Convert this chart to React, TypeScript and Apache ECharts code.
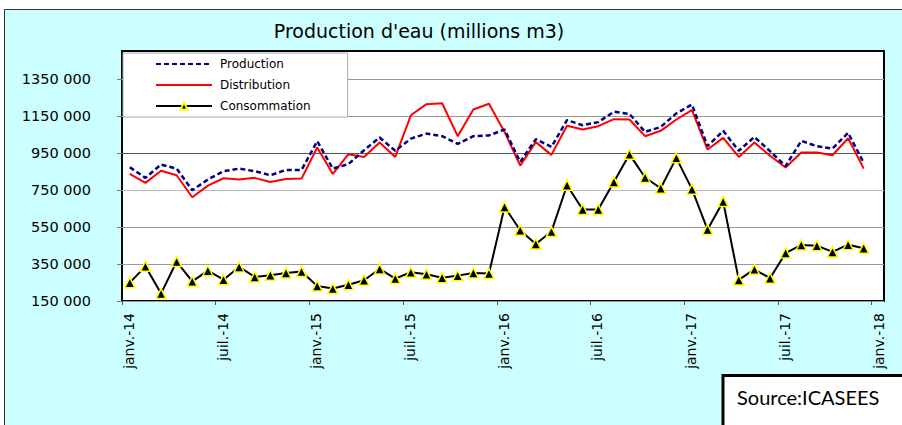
import React, { useEffect, useRef } from 'react';
import * as echarts from 'echarts';

// Monthly categories: janv.-14 ... déc.-17
const monthNames = ['janv.', 'févr.', 'mars', 'avr.', 'mai', 'juin', 'juil.', 'août', 'sept.', 'oct.', 'nov.', 'déc.'];
const years = ['14', '15', '16', '17'];
const months: string[] = years.flatMap((y) => monthNames.map((m) => `${m}-${y}`));

const production = [
  872000, 815000, 887000, 865000, 748000, 806000, 851000, 865000, 851000, 829000, 858000, 858000,
  1013000, 865000, 889000, 964000, 1033000, 961000, 1027000, 1054000, 1040000, 999000, 1040000, 1044000,
  1076000, 901000, 1024000, 982000, 1127000, 1099000, 1116000, 1172000, 1160000, 1063000, 1090000, 1163000,
  1211000, 986000, 1069000, 961000, 1036000, 959000, 878000, 1015000, 986000, 973000, 1058000, 896000,
];

const distribution = [
  836000, 788000, 853000, 829000, 710000, 773000, 813000, 806000, 815000, 793000, 809000, 811000,
  979000, 836000, 943000, 928000, 1006000, 928000, 1153000, 1213000, 1218000, 1040000, 1184000, 1215000,
  1063000, 881000, 1008000, 939000, 1096000, 1076000, 1094000, 1132000, 1130000, 1040000, 1069000, 1130000,
  1181000, 968000, 1031000, 928000, 1006000, 934000, 871000, 952000, 952000, 937000, 1029000, 865000,
];

const consommation = [
  249000, 337000, 190000, 363000, 256000, 314000, 265000, 334000, 280000, 289000, 301000, 309000,
  231000, 217000, 238000, 262000, 323000, 271000, 305000, 294000, 276000, 287000, 301000, 298000,
  658000, 532000, 458000, 525000, 775000, 644000, 644000, 793000, 942000, 817000, 759000, 923000,
  754000, 536000, 687000, 264000, 321000, 273000, 409000, 453000, 449000, 415000, 454000, 435000,
];

const xTickLabels = ['janv.-14', 'juil.-14', 'janv.-15', 'juil.-15', 'janv.-16', 'juil.-16', 'janv.-17', 'juil.-17', 'janv.-18'];
const yTickValues = [150000, 350000, 550000, 750000, 950000, 1150000, 1350000];
const yTickLabels = ['150 000', '350 000', '550 000', '750 000', '950 000', '1150 000', '1350 000'];

const seriesNames = ['Production', 'Distribution', 'Consommation'];
const title = "Production d'eau (millions m3)";
const sourceText = 'Source:ICASEES';

const FONT = 'DejaVu Sans';

export default function App() {
  const ref = useRef<HTMLDivElement>(null);

  useEffect(() => {
    if (!ref.current) return;
    const chart = echarts.init(ref.current, null, { renderer: 'svg' });
    const toPoints = (arr: number[]) => arr.map((v, i) => [i + 0.5, v]);
    const xTickValues = xTickLabels.map((_, i) => i * 6);
    const hiddenSymbol = { opacity: 0, borderWidth: 0 };

    chart.setOption({
      animation: false,
      backgroundColor: '#ffffff',
      title: {
        text: title,
        left: 419,
        top: 21,
        padding: 0,
        textAlign: 'center',
        textStyle: { fontFamily: FONT, fontSize: 19, fontWeight: 'normal', color: '#000' },
      },
      legend: {
        orient: 'vertical',
        left: 123,
        top: 53,
        itemWidth: 56,
        itemHeight: 9,
        itemGap: 9,
        padding: [5, 37, 5, 32],
        backgroundColor: '#fff',
        borderColor: '#aaa',
        borderWidth: 1,
        textStyle: { fontFamily: FONT, fontSize: 12, color: '#000', padding: [0, 0, 0, 3] },
        data: [
          { name: seriesNames[0], itemStyle: hiddenSymbol },
          { name: seriesNames[1], itemStyle: hiddenSymbol },
          { name: seriesNames[2] },
        ],
      },
      grid: {
        left: 122,
        right: 18,
        top: 51,
        bottom: 124,
        show: true,
        backgroundColor: '#fff',
        borderColor: '#000',
        borderWidth: 2,
        containLabel: false,
      },
      xAxis: {
        type: 'value',
        min: 0,
        max: 48.8,
        interval: 6,
        axisLine: { show: false },
        axisTick: { show: true, length: 4, lineStyle: { color: '#555' }, customValues: xTickValues },
        axisLabel: {
          customValues: xTickValues,
          formatter: (v: number) => xTickLabels[Math.round(v / 6)] ?? '',
          rotate: 90,
          margin: 12,
          verticalAlign: 'top',
          fontFamily: FONT,
          fontSize: 14,
          color: '#000',
        },
        splitLine: { show: false },
      },
      yAxis: {
        type: 'value',
        min: 150000,
        max: 1500000,
        interval: 200000,
        axisLine: { show: false },
        axisTick: { show: true, length: 5, lineStyle: { color: '#777' }, customValues: yTickValues },
        axisLabel: {
          customValues: yTickValues,
          formatter: (v: number) => {
            const idx = yTickValues.indexOf(v);
            return idx >= 0 ? yTickLabels[idx] : '';
          },
          margin: 31,
          fontFamily: FONT,
          fontSize: 14.5,
          color: '#000',
        },
        splitLine: {
          show: true,
          lineStyle: { color: ['#999', '#999', '#999', '#bbb', '#555', '#999', '#999', '#999'], width: 1 },
        },
      },
      graphic: [
        {
          type: 'rect',
          z: -10,
          silent: true,
          shape: { x: 4.5, y: 9.5, width: 920, height: 440 },
          style: { fill: '#CCFFFF', stroke: '#333', lineWidth: 1 },
        },
        {
          type: 'rect',
          z: 100,
          shape: { x: 723, y: 375.5, width: 200, height: 80 },
          style: { fill: '#fff', stroke: '#000', lineWidth: 3 },
        },
        {
          type: 'text',
          z: 101,
          x: 737,
          y: 397,
          style: {
            text: sourceText,
            fontFamily: 'Lato',
            fontSize: 20,
            fill: '#000',
            verticalAlign: 'middle',
          },
        },
      ],
      series: [
        {
          name: seriesNames[0],
          type: 'line',
          data: toPoints(production),
          symbol: 'none',
          lineStyle: { color: '#000080', width: 2.5, type: [5, 3] },
          itemStyle: { color: '#000080' },
          z: 3,
        },
        {
          name: seriesNames[1],
          type: 'line',
          data: toPoints(distribution),
          symbol: 'none',
          lineStyle: { color: '#ff0000', width: 2 },
          itemStyle: { color: '#ff0000' },
          z: 2,
        },
        {
          name: seriesNames[2],
          type: 'line',
          data: toPoints(consommation),
          symbol: 'triangle',
          symbolSize: 10,
          lineStyle: { color: '#000', width: 2 },
          itemStyle: { color: '#000', borderColor: '#ffff00', borderWidth: 1.5 },
          z: 4,
        },
      ],
    });

    return () => chart.dispose();
  }, []);

  return (
    <div
      ref={ref}
      data-months={months.length}
      style={{ position: 'fixed', left: 0, top: 0, width: 902, height: 425 }}
    />
  );
}
